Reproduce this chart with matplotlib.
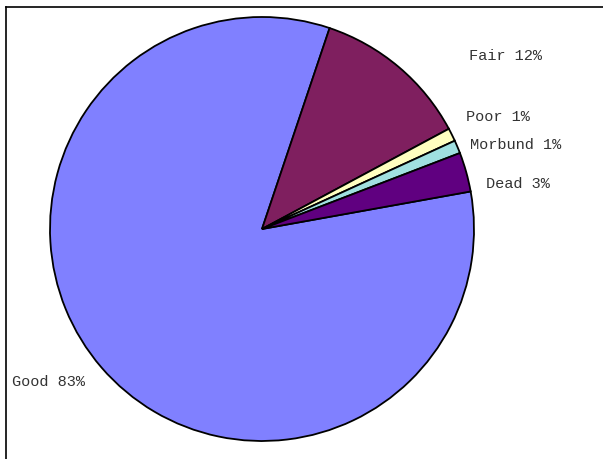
import numpy as np
import matplotlib as mpl
mpl.use('Agg')
from matplotlib import pyplot as plt
from matplotlib.lines import Line2D

#------------------ data ----------------------
categories = ['Good', 'Fair', 'Poor', 'Morbund', 'Dead']
values = [83, 12, 1, 1, 3]
colors = ['#8080FF', '#7F1F5F', '#FFFFC0', '#A0E0E0', '#600080']

# label anchor positions (pixels from top-left of the 603x460 image)
label_px = {'Good': (12, 382), 'Fair': (469, 56), 'Poor': (466, 117),
            'Morbund': (470, 145), 'Dead': (486, 184)}

W, H = 603, 460
fig = plt.figure(figsize=(W / 100, H / 100), dpi=100)

# frame: only top and left edges visible in the crop
fig.add_artist(Line2D([6 / W, 6 / W], [0, 1 - 8 / H], transform=fig.transFigure,
                      color='black', linewidth=1.2))
fig.add_artist(Line2D([6 / W, 1], [1 - 8 / H, 1 - 8 / H], transform=fig.transFigure,
                      color='black', linewidth=1.2))

# pie: centre (262, 230), radius 212 px
cx, cy, r = 262, 230, 212
ax = fig.add_axes([(cx - r) / W, (H - cy - r) / H, 2 * r / W, 2 * r / H])
ax.pie(values, colors=colors, startangle=10.2, counterclock=False,
       wedgeprops={'edgecolor': 'black', 'linewidth': 1.3})
ax.set_xlim(-1.0, 1.0)
ax.set_ylim(-1.0, 1.0)
ax.set_aspect('equal')
ax.axis('off')

font = {'family': 'Liberation Mono', 'size': 11, 'color': '#333333'}
for cat, val in zip(categories, values):
    x, y = label_px[cat]
    fig.text(x / W, 1 - y / H, f'{cat} {val}%', ha='left', va='center', fontdict=font)

plt.savefig('out.png', dpi=100)
